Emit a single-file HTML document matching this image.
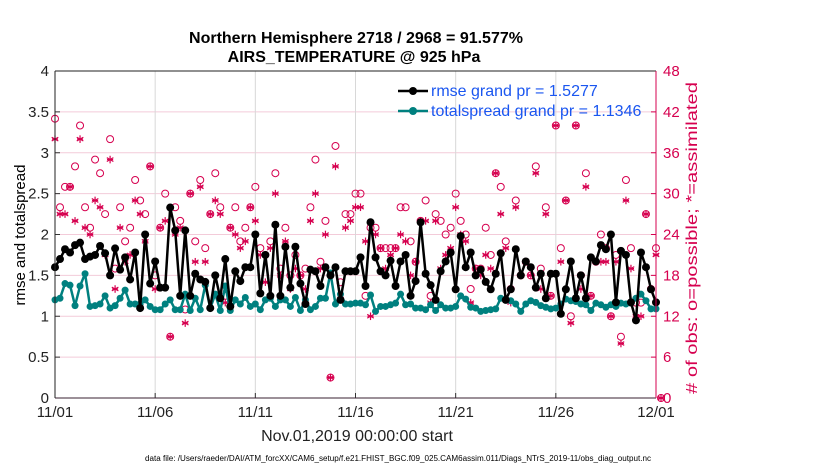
<!DOCTYPE html>
<html><head><meta charset="utf-8"><style>
body{margin:0;background:#fff;}
svg text{font-family:"Liberation Sans",sans-serif;}
</style></head><body>
<svg id="chart" width="830" height="470" xmlns="http://www.w3.org/2000/svg">
<text x="356" y="43" font-size="16" font-weight="bold" text-anchor="middle">Northern Hemisphere 2718 / 2968 = 91.577%</text>
<text x="354" y="62" font-size="16" font-weight="bold" text-anchor="middle">AIRS_TEMPERATURE @ 925 hPa</text>
<g id="grid"></g><g id="obs"></g><g id="series"></g><g id="axes"></g>
<text transform="translate(25,235) rotate(-90)" font-size="15" text-anchor="middle">rmse and totalspread</text>
<text transform="translate(697,238) rotate(-90)" font-size="16" fill="#d6004f" text-anchor="middle" textLength="312" lengthAdjust="spacingAndGlyphs"># of obs: o=possible; *=assimilated</text>
<text x="357" y="441" font-size="16" text-anchor="middle" fill="#222">Nov.01,2019 00:00:00 start</text>
<text x="398" y="461" font-size="8" text-anchor="middle" textLength="506" lengthAdjust="spacingAndGlyphs">data file: /Users/raeder/DAI/ATM_forcXX/CAM6_setup/f.e21.FHIST_BGC.f09_025.CAM6assim.011/Diags_NTrS_2019-11/obs_diag_output.nc</text>
<g id="legend">
<line x1="398" y1="91" x2="428" y2="91" stroke="#000" stroke-width="2.5"/><circle cx="413" cy="91" r="4" fill="#000"/>
<text x="431" y="96" font-size="16" fill="#1a56f0">rmse grand pr = 1.5277</text>
<line x1="398" y1="111" x2="428" y2="111" stroke="#00807f" stroke-width="2.5"/><circle cx="413" cy="111" r="4" fill="#00807f"/>
<text x="431" y="116" font-size="16" fill="#1a56f0">totalspread grand pr = 1.1346</text>
</g>
</svg>
<script>
const rmse=[1.6,1.7,1.82,1.78,1.87,1.9,1.7,1.73,1.75,1.86,1.77,1.5,1.83,1.57,1.72,1.45,1.78,1.1,2.0,1.4,1.67,1.35,1.35,2.33,2.05,1.25,2.05,1.25,1.52,1.45,1.42,1.1,1.5,1.22,1.7,1.12,1.55,1.43,1.6,1.6,2.0,1.28,1.75,1.25,2.12,1.25,1.85,1.35,1.85,1.4,1.15,1.57,1.55,1.37,1.6,1.5,1.6,1.2,1.55,1.55,1.55,
1.72,1.37,2.15,1.72,1.55,1.5,1.68,1.37,1.67,1.75,1.25,1.43,2.15,1.52,1.38,1.2,1.55,1.67,1.78,1.33,1.98,1.6,1.78,1.5,1.57,1.42,1.33,1.52,1.77,1.2,1.33,1.82,1.5,1.67,1.6,1.35,1.52,1.22,1.52,1.52,1.03,1.33,1.67,1.22,1.5,1.22,1.72,1.67,1.87,1.82,2.0,1.17,1.8,1.75,1.17,0.95,1.78,1.6,1.33,1.17];
const spread=[1.2,1.22,1.4,1.38,1.13,1.37,1.52,1.12,1.13,1.15,1.25,1.1,1.13,1.22,1.32,1.15,1.15,1.15,1.2,1.12,1.08,1.08,1.15,1.2,1.08,1.08,1.27,1.07,1.22,1.08,1.38,1.1,1.27,1.07,1.37,1.07,1.2,1.15,1.23,1.12,1.15,1.08,1.2,1.22,1.12,1.2,1.2,1.12,1.23,1.07,1.2,1.08,1.12,1.22,1.22,1.53,1.15,1.27,1.15,1.15,
1.16,1.16,1.14,1.26,1.06,1.12,1.12,1.14,1.16,1.27,1.14,1.15,1.1,1.1,1.08,1.14,1.07,1.14,1.1,1.1,1.12,1.25,1.21,1.11,1.1,1.06,1.07,1.08,1.09,1.22,1.21,1.19,1.15,1.06,1.15,1.19,1.17,1.13,1.11,1.09,1.1,1.15,1.21,1.19,1.18,1.15,1.14,1.07,1.16,1.14,1.11,1.14,1.12,1.16,1.15,1.16,1.22,1.27,1.19,1.09,1.09];
const possible=[41,28,31,31,34,40,28,25,35,33,27,38,19,28,23,25,32,29,27,34,18,25,30,9,28,26,13,30,23,32,22,27,33,28,15,25,28,23,25,28,31,22,21,23,33,19,25,18,21,18,19,28,35,20,26,3,37,17,27,27,30,
30,15,25,25,22,22,22,22,28,28,23,20,26,29,15,27,26,24,25,30,26,24,16,19,19,25,21,33,31,23,16,29,18,20,18,34,19,28,15,40,22,29,12,40,18,33,15,20,24,22,12,21,9,32,22,14,14,27,16,22,0];
const assimilated=[38,27,27,31,26,38,25,24,29,28,21,35,16,25,20,21,29,27,23,34,16,25,26,9,24,25,11,30,20,31,20,27,29,27,14,25,24,22,23,28,26,21,17,22,30,18,23,16,19,18,16,26,30,19,24,3,34,15,25,26,28,
28,23,12,24,22,19,21,22,24,23,18,20,26,26,14,26,19,21,22,28,24,23,14,19,18,21,19,33,27,22,14,28,18,20,18,33,16,27,15,40,20,29,11,40,16,31,15,20,20,20,12,20,8,29,19,12,12,27,16,21,0];
const xTickLabels=["11/01","11/06","11/11","11/16","11/21","11/26","12/01"];
const yTicks=[0,0.5,1,1.5,2,2.5,3,3.5,4];
const rTicks=[0,6,12,18,24,30,36,42,48];

const X0=55,X1=656,Y0=398,Y1=71;
const xs=d=>X0+(X1-X0)*d/30;
const ys=v=>Y0-(Y0-Y1)*v/4;
const yr=c=>Y0-(Y0-Y1)*c/48;
const NS="http://www.w3.org/2000/svg";
function mk(tag,parent,attrs){const e=document.createElementNS(NS,tag);for(const k in attrs)e.setAttribute(k,attrs[k]);parent.appendChild(e);return e;}
const grid=document.getElementById('grid'),axes=document.getElementById('axes'),obs=document.getElementById('obs'),series=document.getElementById('series');
const PINK="#d6004f";
rTicks.forEach(c=>{if(c>0&&c<48){const l=mk('line',grid,{x1:X0,x2:X1,y1:yr(c),y2:yr(c),stroke:'#f3cbd9','stroke-width':1});

}});
xTickLabels.forEach((t,i)=>{const x=xs(i*5);
if(i>0&&i<6){const l=mk('line',grid,{x1:x,x2:x,y1:Y1,y2:Y0,stroke:'#d8d8d8','stroke-width':1});

}
const tx=mk('text',axes,{x:x,y:417,'font-size':15,'text-anchor':'middle',fill:'#222'});tx.textContent=t;


mk('line',axes,{x1:x,x2:x,y1:Y0,y2:Y0-5,stroke:'#333'});});
yTicks.forEach(v=>{const t=mk('text',axes,{x:X0-6,y:ys(v)+5,'font-size':15,'text-anchor':'end',fill:'#222'});t.textContent=v;


mk('line',axes,{x1:X0,x2:X0+5,y1:ys(v),y2:ys(v),stroke:'#333'});});
rTicks.forEach(c=>{const t=mk('text',axes,{x:X1+7,y:yr(c)+5,'font-size':15,fill:PINK});t.textContent=c;


mk('line',axes,{x1:X1,x2:X1-5,y1:yr(c),y2:yr(c),stroke:PINK});});
mk('line',axes,{x1:X0,x2:X1,y1:Y1,y2:Y1,stroke:'#222'});
mk('line',axes,{x1:X0,x2:X1,y1:Y0,y2:Y0,stroke:'#3a2030'});
mk('line',axes,{x1:X0,x2:X0,y1:Y1,y2:Y0,stroke:'#222'});
mk('line',axes,{x1:X1,x2:X1,y1:Y1,y2:Y0,stroke:PINK});
function star(g,x,y,r,col,w){[0,60,120].forEach(a=>{const rad=a*Math.PI/180;mk('line',g,{x1:x-r*Math.sin(rad),y1:y-r*Math.cos(rad),x2:x+r*Math.sin(rad),y2:y+r*Math.cos(rad),stroke:col,'stroke-width':w});});
mk('line',g,{x1:x-r*0.8,y1:y,x2:x+r*0.8,y2:y,stroke:col,'stroke-width':w});}
possible.forEach((c,i)=>{const m=mk('circle',obs,{cx:xs(i/4),cy:yr(c),r:3.5,fill:'none',stroke:PINK,'stroke-width':1});

});
assimilated.forEach((c,i)=>{const g=mk('g',obs,{});


star(g,xs(i/4),yr(c),3.8,PINK,1.2);});
function drawSeries(vals,col,name,r){
const p=mk('polyline',series,{points:vals.map((v,i)=>xs(i/4)+','+ys(v)).join(' '),fill:'none',stroke:col,'stroke-width':2.5,'stroke-linejoin':'round'});


vals.forEach((v,i)=>{const c=mk('circle',series,{cx:xs(i/4),cy:ys(v),r:r,fill:col});

});}
drawSeries(spread,'#00807f','totalspread',3.5);
drawSeries(rmse,'#000','rmse',4);
</script>
</body></html>
